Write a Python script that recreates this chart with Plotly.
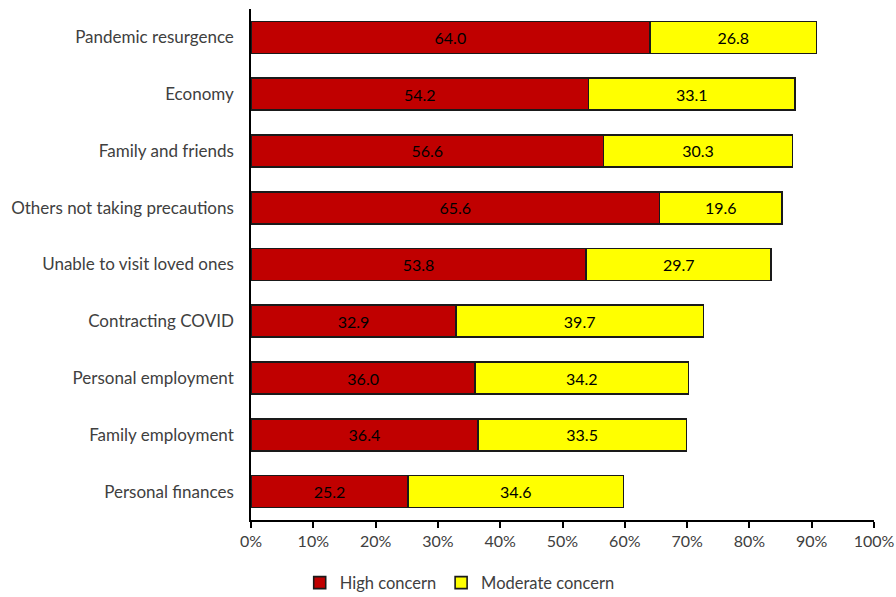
import plotly.graph_objects as go

categories = ["Pandemic resurgence", "Economy", "Family and friends",
              "Others not taking precautions", "Unable to visit loved ones",
              "Contracting COVID", "Personal employment", "Family employment",
              "Personal finances"]
high = [64.0, 54.2, 56.6, 65.6, 53.8, 32.9, 36.0, 36.4, 25.2]
moderate = [26.8, 33.1, 30.3, 19.6, 29.7, 39.7, 34.2, 33.5, 34.6]
tick_vals = [0, 10, 20, 30, 40, 50, 60, 70, 80, 90, 100]
tick_text = [f"{v}%" for v in tick_vals]

FONT = "Lato"
fig = go.Figure()
for name, vals, color in [("High concern", high, "#C00000"),
                          ("Moderate concern", moderate, "#FFFF00")]:
    fig.add_trace(go.Bar(
        y=categories, x=vals, name=name, orientation="h",
        marker=dict(color=color, line=dict(color="#1a1a1a", width=1.6)),
        text=[f"{v:.1f}" for v in vals], textposition="inside",
        insidetextanchor="middle", constraintext="none",
        textfont=dict(color="#000000", size=16, family=FONT),
        hoverinfo="skip",
    ))

fig.update_layout(
    barmode="stack", bargap=0.437,
    width=896, height=597,
    margin=dict(l=251, r=22, t=9, b=77, autoexpand=False),
    paper_bgcolor="white", plot_bgcolor="white",
    font=dict(family=FONT, color="#404040", size=16),
    showlegend=True,
    legend=dict(orientation="h", x=0.335, xanchor="center", y=-0.123,
                yanchor="middle", font=dict(size=16.5, color="#404040", family=FONT),
                traceorder="normal", itemwidth=30,
                bgcolor="rgba(0,0,0,0)"),
)
fig.update_xaxes(range=[0, 100], tickvals=tick_vals, ticktext=tick_text,
                 showgrid=False, zeroline=False, showline=True, automargin=False,
                 linecolor="#000000", linewidth=1.5, ticks="outside",
                 ticklen=6, tickwidth=1.5, tickcolor="#000000",
                 tickfont=dict(size=16, color="#404040"), fixedrange=True)
fig.update_yaxes(autorange="reversed", showgrid=False, zeroline=False,
                 showline=True, linecolor="#000000", linewidth=1.5, ticks="",
                 ticklabelstandoff=12, automargin=False,
                 tickfont=dict(size=17, color="#404040"), fixedrange=True)

fig.write_html("out.html")
